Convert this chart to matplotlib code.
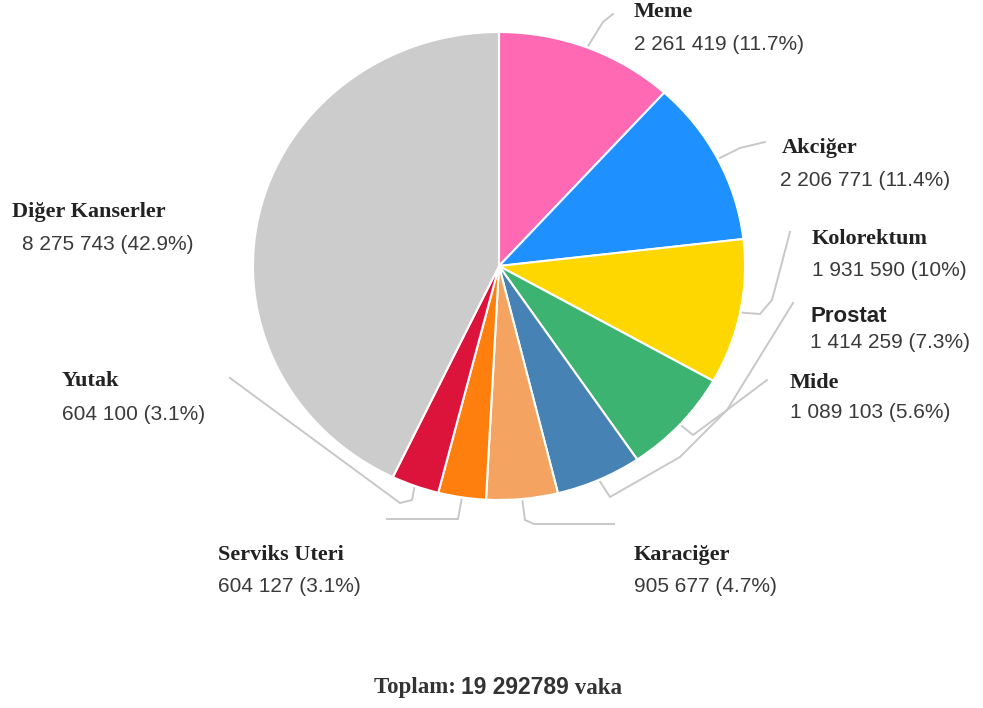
import numpy as np
import matplotlib.pyplot as plt

# veriler
kanserler = ["Meme", "Akciğer", "Kolorektum", "Prostat", "Mide",
             "Karaciğer", "Serviks Uteri", "Yutak", "Diğer Kanserler"]
vaka = [2261419, 2206771, 1931590, 1414259, 1089103, 905677, 604127, 604100, 8275743]
yuzde = ["11.7%", "11.4%", "10%", "7.3%", "5.6%", "4.7%", "3.1%", "3.1%", "42.9%"]
renkler = ["#FF69B4", "#1E90FF", "#FFD700", "#3CB371", "#4682B4",
           "#F4A460", "#FF7F0E", "#DC143C", "#CCCCCC"]
toplam_yazi = "19 292789"

W, H = 983, 708
cx, cy, rx, ry = 499, 266, 246, 234  # pasta merkezi ve yaricaplar (piksel)

# etiket yerleri: (x isim, y isim, x deger, y deger)
etiket_yeri = {
    "Meme": (634, 12, 634, 45),
    "Akciğer": (782, 148, 780, 181),
    "Kolorektum": (812, 239, 812, 271),
    "Prostat": (810, 316, 810, 342),
    "Mide": (790, 383, 790, 413),
    "Karaciğer": (634, 555, 634, 587),
    "Serviks Uteri": (218, 555, 218, 587),
    "Yutak": (62, 381, 62, 414),
    "Diğer Kanserler": (12, 212, 22, 244),
}

# cizgi ara noktalari (kilavuz cizgiler)
kilavuz = {
    "Meme": [(603, 22), (613, 14)],
    "Akciğer": [(740, 148), (765, 142)],
    "Kolorektum": [(760, 314), (772, 300), (790, 232)],
    "Prostat": [(693, 435), (727, 410), (793, 303)],
    "Mide": [(610, 497), (680, 457), (727, 410), (767, 380)],
    "Karaciğer": [(525, 520), (534, 524), (614, 524)],
    "Serviks Uteri": [(458, 519), (387, 519)],
    "Yutak": [(412, 500), (400, 503), (230, 378)],
}

fig = plt.figure(figsize=(W / 100, H / 100), dpi=100)

ax = fig.add_axes([(cx - rx) / W, (H - cy - ry) / H, 2 * rx / W, 2 * ry / H])
wedges, _ = ax.pie(vaka, colors=renkler, startangle=90, counterclock=False, radius=1,
                   wedgeprops=dict(edgecolor="white", linewidth=1.5))
ax.set_aspect("auto")
ax.set_xlim(-1, 1)
ax.set_ylim(-1, 1)

ov = fig.add_axes([0, 0, 1, 1], zorder=-1)
ov.set_xlim(0, W)
ov.set_ylim(H, 0)
ov.axis("off")

for w, ad, v, p in zip(wedges, kanserler, vaka, yuzde):
    xi, yi, xv, yv = etiket_yeri[ad]
    isim_font = "Liberation Sans" if ad == "Prostat" else "Liberation Serif"
    ov.text(xi, yi, ad, fontsize=16, fontweight="bold", family=isim_font,
            color="#222222", va="center", ha="left")
    deger = "{:,}".format(v).replace(",", " ") + " (" + p + ")"
    ov.text(xv, yv, deger, fontsize=15, family="Liberation Sans",
            color="#3a3a3a", va="center", ha="left")
    if ad in kilavuz:
        a = np.deg2rad((w.theta1 + w.theta2) / 2)
        x0 = cx + rx * 1.01 * np.cos(a)
        y0 = cy - ry * 1.01 * np.sin(a)
        pts = [(x0, y0)] + kilavuz[ad]
        ov.plot([q[0] for q in pts], [q[1] for q in pts], color="#c8c8c8", lw=1.4)

# Toplam satiri
fig.canvas.draw()
r = fig.canvas.get_renderer()
parcalar = [("Toplam: ", "Liberation Serif"), (toplam_yazi, "Liberation Sans"), (" vaka", "Liberation Serif")]
yazilar = []
for s, f in parcalar:
    yazilar.append(ov.text(0, 688, s, fontsize=16.5, fontweight="bold", family=f,
                           color="#333333", va="center", ha="left"))
genislik = [t.get_window_extent(r).width for t in yazilar]
x = 498 - sum(genislik) / 2
for t, g in zip(yazilar, genislik):
    t.set_x(x)
    x += g

fig.savefig("out.png", dpi=100, facecolor="white")
